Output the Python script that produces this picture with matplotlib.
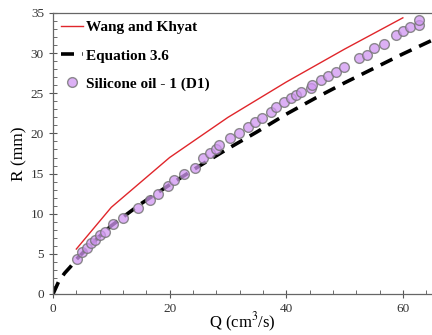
import numpy as np
import matplotlib
matplotlib.use("Agg")
import matplotlib.pyplot as plt
from matplotlib.ticker import MultipleLocator

# Wang and Khyat (piecewise line)
wk_q = [4, 10, 20, 30, 40, 50, 60]
wk_r = [5.6, 10.8, 17.0, 22.0, 26.4, 30.5, 34.4]

# Equation 3.6
eq_q = [0, 1, 2, 3, 4, 6, 8, 10, 15, 20, 25, 30, 35, 40, 45, 50, 55, 60, 65]
eq_r = [0, 1.6, 2.6, 3.4, 4.3, 5.8, 7.2, 8.5, 11.2, 13.6, 15.9, 18.1, 20.2,
        22.4, 24.4, 26.3, 28.1, 29.9, 31.6]

# Silicone oil - 1 (D1) measurements
d1_q = [4.15, 5.0, 5.75, 6.6, 7.2, 8.0, 8.9, 10.26, 12.0, 14.5, 16.6, 18.0,
        19.7, 20.7, 22.4, 24.4, 25.8, 27.0, 27.9, 28.5, 30.4, 31.9, 33.5,
        34.6, 35.8, 37.4, 38.2, 39.7, 40.8, 41.7, 42.5, 44.2, 44.5, 46.0,
        47.2, 48.5, 49.9, 52.4, 53.9, 55.0, 56.8, 58.75, 60.0, 61.3, 62.7, 62.7]
d1_r = [4.4, 5.27, 5.69, 6.3, 6.7, 7.35, 7.76, 8.68, 9.46, 10.67, 11.7, 12.5,
        13.4, 14.15, 14.95, 15.75, 17.0, 17.5, 18.0, 18.55, 19.4, 20.1, 20.8,
        21.4, 21.9, 22.7, 23.25, 23.9, 24.4, 24.8, 25.2, 25.7, 26.0, 26.65,
        27.1, 27.7, 28.3, 29.35, 29.8, 30.6, 31.1, 32.25, 32.7, 33.2, 33.5, 34.1]

plt.rcParams['font.family'] = ['Liberation Serif', 'DejaVu Serif']
plt.rcParams['mathtext.fontset'] = 'stix'

fig = plt.figure(figsize=(4.32, 3.35), dpi=100)
ax = fig.add_axes([0.1227, 0.1224, 0.8773, 0.8388])

ax.plot(wk_q, wk_r, color='#e0262b', lw=1.0, label='Wang and Khyat', zorder=2)
ax.plot(eq_q, eq_r, color='black', lw=2.6, dashes=(3.6, 2.3),
        label='Equation 3.6', zorder=2)
ax.plot(d1_q, d1_r, 'o', ms=7.0, mfc=(0.82, 0.59, 0.95, 0.75),
        mec=(0.45, 0.45, 0.45, 0.8), mew=1.0, ls='none',
        label='Silicone oil - 1 (D1)', zorder=3)

ax.set_xlim(0, 65)
ax.set_ylim(0, 35)
ax.xaxis.set_major_locator(MultipleLocator(20))
ax.xaxis.set_minor_locator(MultipleLocator(4))
ax.yaxis.set_major_locator(MultipleLocator(5))
ax.yaxis.set_minor_locator(MultipleLocator(1))
ax.tick_params(which='major', direction='inout', length=6, width=0.8,
               colors='#555555', labelcolor='#333333', labelsize=9.5)
ax.tick_params(which='minor', direction='in', length=3, width=0.6,
               colors='#555555')
ax.tick_params(top=False, right=False)

for s in ['left', 'bottom', 'top']:
    ax.spines[s].set_color('#666666')
    ax.spines[s].set_linewidth(0.9)
ax.spines['right'].set_visible(False)

ax.set_xlabel('Q (cm$^3$/s)', fontsize=12, labelpad=-3)
ax.set_ylabel('R (mm)', fontsize=12.5, labelpad=2)

leg = ax.legend(loc='upper left', frameon=False,
                prop={'weight': 'bold', 'size': 11}, labelspacing=0.95,
                handlelength=1.45, handletextpad=0.2,
                borderaxespad=0.1, bbox_to_anchor=(0.0, 1.0))

fig.savefig('out.png', dpi=100)
